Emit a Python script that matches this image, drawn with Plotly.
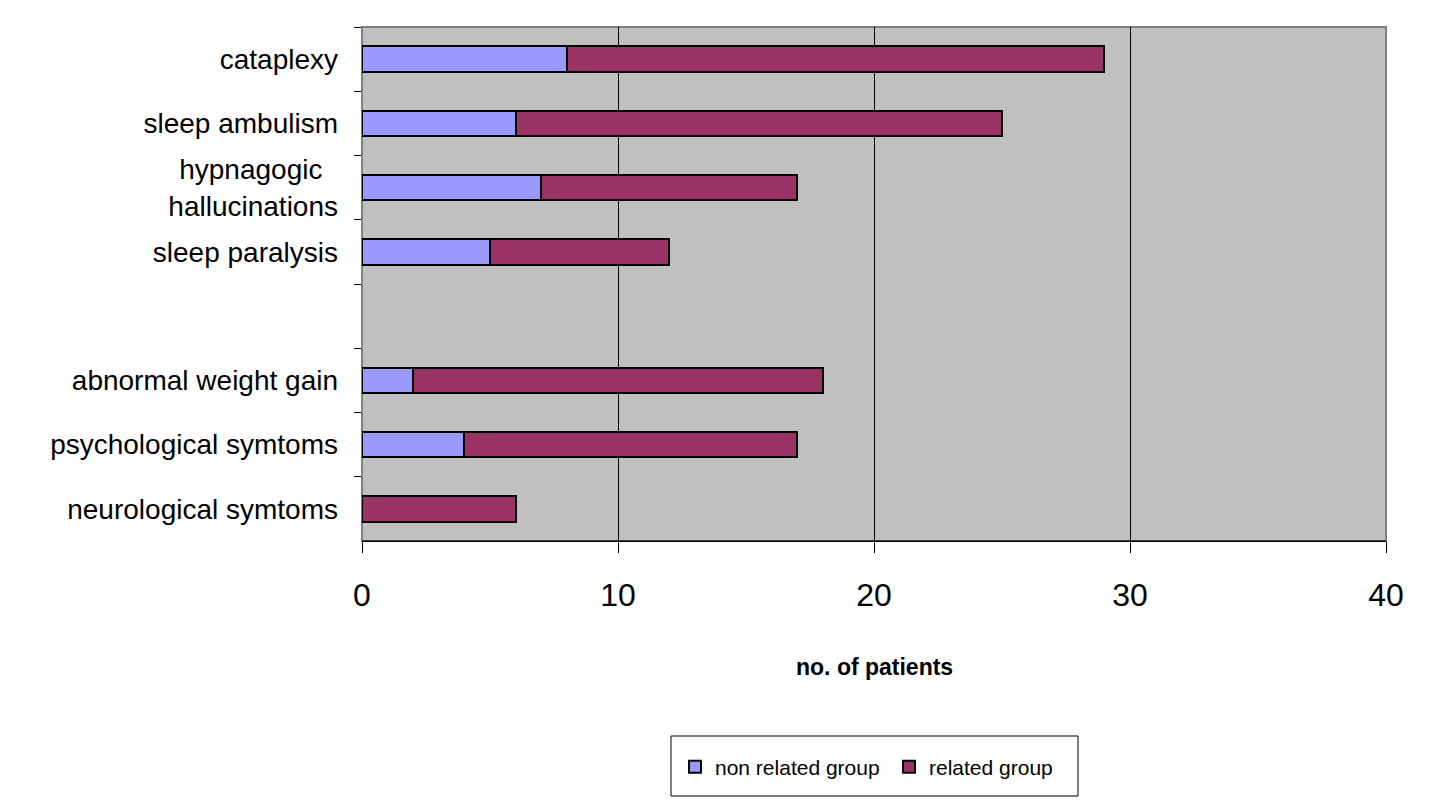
import plotly.graph_objects as go

categories = ["cataplexy", "sleep ambulism", "hypnagogic\u00a0\u00a0<br>hallucinations",
              "sleep paralysis", " ", "abnormal weight gain",
              "psychological symtoms", "neurological symtoms"]
non_related = [8, 6, 7, 5, None, 2, 4, 0]
related = [21, 19, 10, 7, None, 16, 13, 6]
x_ticks = [0, 10, 20, 30, 40]

L, R, T, B = 362, 1386, 27, 541
W, H = 1430, 804
pw, ph = R - L, B - T

def px(x):
    return (x - L) / pw

def py(y):
    return (B - y) / ph

fig = go.Figure()
fig.add_trace(go.Bar(y=categories, x=non_related, orientation="h", name="non related group",
                     marker=dict(color="#9999FF", line=dict(color="black", width=2)), width=0.4))
fig.add_trace(go.Bar(y=categories, x=related, orientation="h", name="related group",
                     marker=dict(color="#993366", line=dict(color="black", width=2)), width=0.4))

fig.update_layout(
    width=W, height=H, barmode="stack",
    margin=dict(l=L, r=W - R, t=T, b=H - B),
    paper_bgcolor="white", plot_bgcolor="#C0C0C0",
    font=dict(family="Liberation Sans, Arial, sans-serif", color="black"),
    showlegend=True,
    legend=dict(orientation="h", x=px(675), y=py(767),
                xanchor="left", yanchor="middle",
                borderwidth=0, bgcolor="rgba(0,0,0,0)",
                font=dict(size=21), itemwidth=30, entrywidth=169,
                traceorder="normal"),
    xaxis=dict(range=[0, 40], tickvals=x_ticks, showgrid=True, gridcolor="black", gridwidth=1,
               ticks="outside", ticklen=11, tickcolor="black", tickwidth=1,
               tickfont=dict(size=32), ticklabelstandoff=15,
               showline=True, linecolor="black", linewidth=1, zeroline=False, fixedrange=True),
    yaxis=dict(categoryorder="array", categoryarray=categories, autorange="reversed",
               type="category", tickson="boundaries", ticks="outside", ticklen=7,
               tickcolor="black", tickwidth=1, tickfont=dict(size=28),
               ticklabelstandoff=23, showgrid=False, showline=False, zeroline=False,
               fixedrange=True),
    annotations=[dict(text="<b>no. of patients</b>", x=0.5, xref="paper",
                      y=py(667), yref="paper", yanchor="middle",
                      showarrow=False, font=dict(size=23))],
    shapes=[dict(type="rect", xref="paper", yref="paper", x0=0, x1=1, y0=0, y1=1,
                 line=dict(color="#808080", width=2), layer="below"),
            dict(type="line", xref="paper", yref="paper", x0=0, x1=1, y0=0, y1=0,
                 line=dict(color="black", width=1)),
            dict(type="rect", xref="paper", yref="paper", x0=px(671), x1=px(1078),
                 y0=py(796), y1=py(736), line=dict(color="black", width=1))],
)

fig.write_html("out.html")
